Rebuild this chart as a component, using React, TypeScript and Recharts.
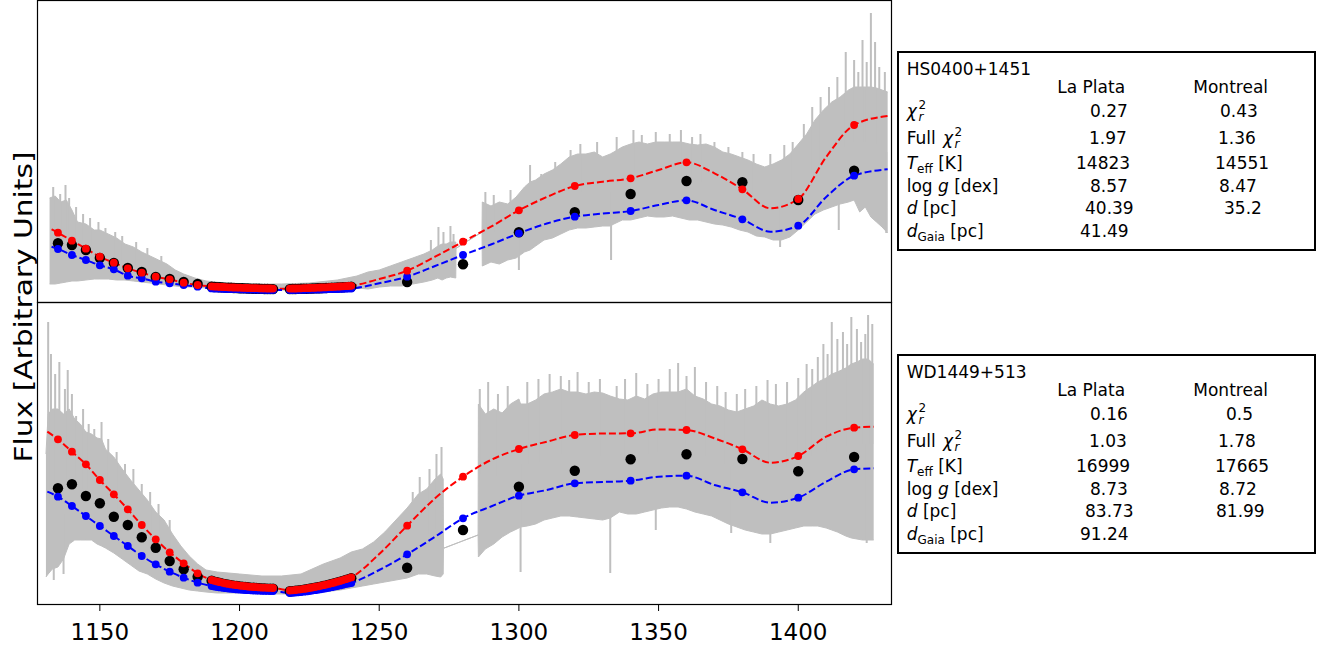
import React from 'react';
import { ComposedChart, Area, Line, XAxis, YAxis } from 'recharts';

// ---------- axis ----------
const X_DOMAIN: [number, number] = [1127.5, 1433.2];
const X_TICKS = [1150, 1200, 1250, 1300, 1350, 1400];

// ---------- wavelength grids of the binned points ----------
const COARSE_WL = [1135, 1140, 1145, 1150, 1155, 1160, 1165, 1170, 1175, 1180, 1185];
const DENSE_LEFT_WL = [1190, 1191, 1192, 1193, 1194, 1195, 1196, 1197, 1198, 1199, 1200, 1201, 1202, 1203, 1204, 1205, 1206, 1207, 1208, 1209, 1210, 1211, 1212];
const DENSE_RIGHT_WL = [1218, 1219, 1220, 1221, 1222, 1223, 1224, 1225, 1226, 1227, 1228, 1229, 1230, 1231, 1232, 1233, 1234, 1235, 1236, 1237, 1238, 1239, 1240];
const FAR_WL = [1260, 1280, 1300, 1320, 1340, 1360, 1380, 1400, 1420];

// ---------- top panel (HS0400+1451) ----------
const TOP_OBS_COARSE = [58.7, 57, 52, 44, 39, 34, 30, 25, 23, 20, 18];
const TOP_OBS_DENSE_L = [15.2, 15.0, 14.9, 14.7, 14.6, 14.4, 14.3, 14.2, 14.0, 13.9, 13.8, 13.7, 13.6, 13.5, 13.4, 13.3, 13.2, 13.2, 13.1, 13.0, 13.0, 12.9, 12.9];
const TOP_OBS_DENSE_R = [12.9, 13.0, 13.0, 13.1, 13.2, 13.2, 13.3, 13.4, 13.5, 13.6, 13.7, 13.8, 13.9, 14.0, 14.1, 14.2, 14.4, 14.5, 14.6, 14.8, 14.9, 15.1, 15.3];
const TOP_OBS_FAR = [20, 37.7, 69.7, 89.7, 108, 121, 119.7, 102, 131.3];

const TOP_LP_COARSE = [69.3, 61.3, 53.3, 45.3, 39.3, 33.7, 29.3, 25.3, 22.7, 19.3, 17];
const TOP_LP_DENSE_L = [15.6, 15.4, 15.3, 15.1, 15.0, 14.8, 14.7, 14.6, 14.5, 14.4, 14.3, 14.2, 14.1, 14.0, 13.9, 13.8, 13.8, 13.7, 13.6, 13.6, 13.5, 13.5, 13.4];
const TOP_LP_DENSE_R = [13.4, 13.5, 13.5, 13.6, 13.7, 13.8, 13.9, 14.0, 14.1, 14.2, 14.3, 14.5, 14.6, 14.7, 14.9, 15.0, 15.2, 15.3, 15.5, 15.7, 15.8, 16.0, 16.2];
const TOP_LP_FAR = [31.3, 60.3, 91.7, 116, 123.7, 139.7, 112.7, 103, 177];

const TOP_MT_COARSE = [53, 47, 42, 36.7, 32.7, 26.3, 23.7, 20.3, 18.7, 17, 15.3];
const TOP_MT_DENSE_L = [13.6, 13.5, 13.4, 13.3, 13.2, 13.1, 13.0, 12.9, 12.9, 12.8, 12.7, 12.6, 12.6, 12.5, 12.4, 12.4, 12.3, 12.3, 12.2, 12.2, 12.1, 12.1, 12.1];
const TOP_MT_DENSE_R = [12.0, 12.0, 12.1, 12.1, 12.2, 12.2, 12.3, 12.3, 12.4, 12.4, 12.5, 12.6, 12.6, 12.7, 12.8, 12.9, 12.9, 13.0, 13.1, 13.2, 13.3, 13.4, 13.5];
const TOP_MT_FAR = [25.3, 47, 68.7, 85.3, 91, 101.7, 82.7, 76.3, 126.3];

const TOP_CURVE_WL = [1132.7, 1135, 1140, 1145, 1150, 1155, 1160, 1165, 1170, 1175, 1180, 1185, 1190, 1195, 1200, 1205, 1210, 1212, 1215, 1218, 1220, 1225, 1230, 1235, 1240, 1250, 1260, 1270, 1280, 1290, 1300, 1310, 1320, 1330, 1340, 1350, 1360, 1370, 1380, 1390, 1400, 1410, 1420, 1432];
const TOP_LP_CURVE = [72.7, 69.3, 61.3, 53.3, 45.3, 39.3, 33.7, 29.3, 25.3, 22.7, 19.3, 17, 15.6, 15.0, 14.3, 13.8, 13.5, 13.4, 13.3, 13.4, 13.5, 14.0, 14.6, 15.3, 16.2, 23, 31.3, 45.3, 60.3, 75.3, 91.7, 105, 116, 120.3, 123.7, 132, 139.7, 128.7, 112.7, 93.7, 103, 145, 177, 186];
const TOP_MT_CURVE = [55.3, 53, 47, 42, 36.7, 32.7, 26.3, 23.7, 20.3, 18.7, 17, 15.3, 13.6, 13.1, 12.7, 12.4, 12.1, 12.1, 12.0, 12.0, 12.1, 12.3, 12.6, 13.0, 13.5, 18.7, 25.3, 36, 47, 57.5, 68.7, 78.5, 85.3, 88.5, 91, 97, 101.7, 92, 82.7, 70.3, 76.3, 105, 126.3, 132.7];

// observed spectrum: envelope of the noisy gray trace
const TOP_SPEC_WL = [1132, 1134, 1136, 1138, 1140, 1142, 1145, 1148, 1150, 1153, 1156, 1159, 1162, 1165, 1168, 1171, 1174, 1177, 1180, 1184, 1188, 1195, 1205, 1215, 1225, 1235, 1242, 1246, 1250, 1254, 1258, 1262, 1266, 1269, 1271, 1272.5, 1274, 1275.5, 1277.4, 1277.5, 1286.8, 1286.9, 1290, 1293, 1296, 1299, 1302, 1304, 1306, 1309, 1312, 1315, 1318, 1321, 1324, 1327, 1330, 1332.7, 1334, 1337, 1340, 1343, 1346, 1349, 1352, 1355, 1358, 1361, 1364, 1367, 1370, 1373, 1376, 1379, 1382, 1385, 1388, 1391, 1394, 1397, 1400, 1403, 1406, 1409, 1412, 1415, 1418, 1420, 1422, 1424, 1426, 1428, 1430, 1432];
const TOP_SPEC_LO = [18, 18, 19, 20, 21, 21, 22, 23, 23, 23, 22, 22, 21, 20, 19, 18, 17, 16, 15, 15, 14, 13, 12, 12, 12, 13, 14, 13, 15, 16, 16, 18, 20, 22, 24, 22, 24, 25, 24, 53.7, 70, 36, 40, 38, 42, 44, 50, 52, 56, 62, 64, 68, 72, 74, 74, 75, 76, 76, 78, 82, 82, 84, 86, 85, 85, 86, 84, 82, 82, 80, 78, 77, 75, 72, 70, 66, 65, 62, 62, 65, 72, 80, 88, 92, 95, 98, 100, 102, 90, 95, 85, 80, 75, 69];
const TOP_SPEC_HI = [104, 106, 100, 102, 92, 80, 78, 72, 72, 68, 64, 58, 55, 50, 46, 42, 38, 32, 28, 24, 21, 19, 18, 18, 19, 22, 26, 30, 32, 36, 40, 44, 48, 52, 56, 58, 58, 60, 60, 53.7, 70, 100, 96, 100, 98, 105, 115, 120, 122, 128, 132, 138, 145, 148, 148, 150, 145, 148, 150, 155, 158, 160, 158, 160, 160, 160, 160, 158, 157, 158, 155, 150, 148, 145, 142, 138, 135, 138, 142, 148, 158, 168, 182, 192, 200, 205, 212, 215, 215, 215, 215, 214, 212, 210];
// individual noise spikes of the gray trace
const TOP_SPIKE_WL = [1133.3, 1135.8, 1137.7, 1139, 1141.5, 1144, 1146.5, 1149.5, 1152, 1155.5, 1158, 1163, 1167, 1172, 1268.5, 1271.2, 1273, 1275.5, 1276.6, 1288, 1291, 1297, 1300, 1304, 1308, 1313, 1318.5, 1322, 1328, 1333, 1335, 1341, 1344, 1349, 1354, 1358, 1362, 1365, 1370, 1375, 1380, 1384, 1390, 1393.5, 1395, 1398, 1402, 1405, 1408, 1411, 1414, 1414.5, 1417, 1420, 1421.5, 1423, 1424.5, 1426, 1427.5, 1429, 1431, 1431.5];
const TOP_SPIKE_FROM = [60, 60, 60, 55, 50, 50, 48, 46, 45, 43, 40, 37, 33, 30, 35, 40, 40, 42, 42, 70, 70, 70, 75, 85, 90, 95, 110, 110, 110, 110, 115, 120, 122, 122, 122, 122, 120, 120, 115, 112, 108, 104, 100, 100, 102, 105, 115, 130, 140, 145, 150, 150, 155, 160, 160, 160, 160, 160, 158, 155, 150, 150];
const TOP_SPIKE_TO = [115, 108, 117, 104, 95, 88, 84, 80, 74, 70, 66, 60, 54, 46, 62, 75, 70, 76, 68, 110, 107, 112, 32, 137, 128, 140, 152, 158, 160, 42, 165, 172, 167, 170, 168, 172, 165, 168, 160, 155, 150, 148, 148, 55, 157, 160, 178, 195, 205, 215, 225, 72, 250, 242, 230, 262, 240, 289, 260, 235, 230, 69];

// ---------- bottom panel (WD1449+513) ----------
const BOT_OBS_COARSE = [115.7, 119.7, 108, 100.7, 87.3, 79, 66.7, 56.3, 43, 34.7, 27.3];
const BOT_OBS_DENSE_L = [23.2, 22.4, 21.7, 21.0, 20.4, 19.8, 19.3, 18.8, 18.4, 18.0, 17.6, 17.3, 17.0, 16.7, 16.4, 16.2, 16.0, 15.8, 15.6, 15.5, 15.4, 15.3, 15.2];
const BOT_OBS_DENSE_R = [12.7, 12.9, 13.2, 13.5, 13.9, 14.3, 14.7, 15.2, 15.7, 16.2, 16.8, 17.4, 18.0, 18.6, 19.3, 20.0, 20.7, 21.5, 22.3, 23.1, 24.0, 24.9, 25.8];
const BOT_OBS_FAR = [36.3, 74, 117.3, 133.3, 144.7, 149.7, 145, 132.7, 147];

const BOT_LP_COARSE = [164.7, 152.3, 139.7, 124, 109.7, 94.7, 79, 64.7, 51.7, 40.7, 30.7];
const BOT_LP_DENSE_L = [24.0, 23.2, 22.5, 21.8, 21.2, 20.6, 20.1, 19.6, 19.2, 18.8, 18.4, 18.1, 17.8, 17.5, 17.2, 17.0, 16.8, 16.6, 16.4, 16.3, 16.2, 16.1, 16.0];
const BOT_LP_DENSE_R = [13.5, 13.7, 14.0, 14.3, 14.7, 15.1, 15.5, 16.0, 16.5, 17.0, 17.6, 18.2, 18.8, 19.4, 20.1, 20.8, 21.5, 22.3, 23.1, 23.9, 24.8, 25.7, 26.6];
const BOT_LP_FAR = [78.3, 127.3, 155, 169, 170.7, 174, 154.7, 148, 176.3];

const BOT_MT_COARSE = [107.3, 98, 88, 78, 68, 58, 48, 39.7, 32.3, 26.3, 21.3];
const BOT_MT_DENSE_L = [18.0, 17.5, 17.0, 16.6, 16.2, 15.8, 15.5, 15.2, 14.9, 14.6, 14.4, 14.2, 14.0, 13.8, 13.7, 13.5, 13.4, 13.3, 13.2, 13.1, 13.1, 13.0, 13.0];
const BOT_MT_DENSE_R = [11.0, 11.2, 11.4, 11.7, 12.0, 12.3, 12.6, 13.0, 13.4, 13.8, 14.2, 14.7, 15.2, 15.7, 16.2, 16.8, 17.4, 18.0, 18.6, 19.2, 19.9, 20.5, 21.0];
const BOT_MT_FAR = [49.7, 85.7, 108.3, 120.7, 123.3, 128.3, 111.7, 106.3, 134.7];

const BOT_CURVE_WL = [1131.2, 1135, 1140, 1145, 1150, 1155, 1160, 1165, 1170, 1175, 1180, 1185, 1190, 1195, 1200, 1205, 1210, 1212, 1215, 1218, 1220, 1225, 1230, 1235, 1240, 1250, 1260, 1270, 1280, 1290, 1300, 1310, 1320, 1330, 1340, 1350, 1360, 1370, 1380, 1390, 1400, 1410, 1420, 1427];
const BOT_LP_CURVE = [172.3, 164.7, 152.3, 139.7, 124, 109.7, 94.7, 79, 64.7, 51.7, 40.7, 30.7, 24, 20.6, 18.4, 17, 16.2, 16, 14.8, 13.5, 14, 15.5, 18.2, 21.5, 26.6, 50, 78.3, 105.7, 127.3, 144, 155, 162.3, 169, 170.5, 170.7, 174.5, 174, 165.7, 154.7, 141.3, 148, 167.3, 176.3, 177.3];
const BOT_MT_CURVE = [112.3, 107.3, 98, 88, 78, 68, 58, 48, 39.7, 32.3, 26.3, 21.3, 18, 15.8, 14.4, 13.5, 13.1, 13, 12, 11, 11.4, 12.6, 14.7, 17.4, 21, 34, 49.7, 67.3, 85.7, 97.5, 108.3, 114, 120.7, 122, 123.3, 127.3, 128.3, 119, 111.7, 101.3, 106.3, 122.3, 134.7, 135.7];

const BOT_SPEC_WL = [1130.7, 1131.5, 1133, 1135, 1137, 1139, 1141, 1143, 1145, 1147, 1149, 1150.6, 1152, 1155, 1158, 1161, 1164, 1167, 1170, 1173, 1176, 1179, 1182, 1185, 1188, 1192, 1200, 1208, 1215, 1222, 1230, 1236, 1240, 1244, 1248, 1252, 1256, 1260, 1264, 1267, 1270, 1272, 1272.9, 1273, 1285.4, 1285.5, 1288, 1291, 1294, 1297, 1300, 1300.6, 1303, 1306, 1309, 1312, 1315, 1318, 1321, 1324, 1327, 1330, 1332.7, 1336, 1339, 1342, 1345, 1348, 1351, 1354, 1357, 1360, 1363, 1366, 1369, 1372, 1375, 1378, 1381, 1384, 1387, 1390, 1393, 1396, 1399, 1402, 1405, 1407, 1410, 1412, 1414, 1417, 1419, 1421, 1423, 1425, 1427];
const BOT_SPEC_LO = [27, 30, 35, 37, 45, 60, 64, 64, 64, 64, 60, 58, 56, 51, 45, 39, 33, 30, 25, 21, 18, 16, 14, 13, 12, 11, 11, 10, 10, 10, 12, 14, 16, 18, 20, 22, 24, 26, 30, 30, 28, 27, 30, 55.7, 69, 47, 55, 60, 67, 72, 76, 77, 78, 80, 84, 86, 88, 88, 87, 86, 85, 84, 86, 92, 90, 90, 92, 94, 96, 97, 97, 95, 92, 90, 88, 84, 80, 77, 74, 72, 70, 70, 72, 74, 76, 78, 78, 78, 76, 74, 72, 68, 66, 65, 64, 64, 64];
const BOT_SPEC_HI = [150, 190, 195, 195, 190, 195, 185, 180, 172, 170, 166, 165, 155, 147, 135, 124, 114, 104, 92, 84, 70, 58, 48, 40, 34, 32, 30, 28, 28, 30, 40, 46, 52, 55, 62, 72, 84, 96, 110, 115, 125, 130, 125, 55.7, 69, 200, 190, 195, 191, 200, 205, 200, 200, 204, 210, 212, 215, 212, 212, 210, 212, 211, 208, 205, 204, 208, 205, 210, 212, 212, 212, 215, 208, 205, 200, 198, 194, 192, 195, 198, 204, 200, 198, 200, 204, 212, 218, 222, 226, 230, 232, 236, 240, 242, 245, 245, 240];
const BOT_SPIKE_WL = [1131.5, 1132.5, 1133.5, 1134, 1135.5, 1137, 1137.5, 1138.5, 1140, 1141.5, 1144, 1146, 1148, 1150.6, 1153, 1156, 1159, 1162, 1165, 1168, 1171, 1175, 1262, 1264.5, 1268, 1270.5, 1272.3, 1286, 1289, 1292.5, 1296, 1300.6, 1303, 1307, 1311, 1315, 1318, 1321, 1325, 1329, 1332.7, 1335, 1338, 1342, 1346, 1349, 1350, 1354, 1357, 1360, 1363, 1367, 1371, 1374, 1376, 1378, 1381, 1385, 1389, 1390, 1392, 1396, 1400, 1403, 1405, 1407, 1409, 1410.5, 1412, 1414, 1416, 1417.5, 1419, 1421, 1422.5, 1424, 1424.5, 1425, 1426.5];
const BOT_SPIKE_FROM = [100, 100, 80, 110, 110, 90, 120, 120, 120, 120, 115, 115, 110, 105, 100, 95, 85, 78, 70, 62, 55, 45, 60, 65, 70, 75, 75, 130, 125, 128, 135, 140, 140, 142, 148, 150, 150, 150, 148, 148, 148, 150, 148, 148, 150, 150, 152, 155, 155, 155, 152, 148, 142, 140, 138, 135, 135, 135, 137, 135, 136, 137, 140, 145, 148, 150, 152, 152, 152, 155, 158, 158, 158, 160, 160, 160, 160, 160, 160];
const BOT_SPIKE_TO = [282, 250, 24, 230, 242, 30, 215, 234, 210, 188, 195, 180, 175, 182, 165, 152, 140, 135, 120, 112, 100, 84, 112, 127, 135, 150, 157, 215, 222, 210, 218, 32, 222, 225, 230, 228, 224, 232, 222, 225, 31, 218, 225, 231, 220, 74, 225, 235, 241, 228, 237, 222, 218, 212, 71, 210, 215, 218, 224, 61, 220, 222, 226, 240, 235, 247, 260, 250, 282, 265, 272, 260, 287, 275, 262, 270, 61, 289, 280];

// ---------- fit parameter tables ----------
const TOP_NAME = 'HS0400+1451';
const BOT_NAME = 'WD1449+513';
const MODEL_NAMES = ['La Plata', 'Montreal'];
const TOP_LAPLATA = ['0.27', '1.97', '14823', '8.57', '40.39', '41.49'];
const TOP_MONTREAL = ['0.43', '1.36', '14551', '8.47', '35.2'];
const BOT_LAPLATA = ['0.16', '1.03', '16999', '8.73', '83.73', '91.24'];
const BOT_MONTREAL = ['0.5', '1.78', '17665', '8.72', '81.99'];
const Y_LABEL = 'Flux [Arbitrary Units]';

// ---------- helpers ----------
const pts = (wl: number[], v: number[]) => wl.map((w, i) => ({ wl: w, v: v[i] }));
const spec = (wl: number[], lo: number[], hi: number[]) => wl.map((w, i) => ({ wl: w, spec: [lo[i], hi[i]] }));
const spikes = (wl: number[], from: number[], to: number[]) =>
  wl.flatMap((w, i) => [{ wl: w, v: from[i] }, { wl: w, v: to[i] }, { wl: w, v: null as number | null }]);
const dotsOf = (c: number[], l: number[], r: number[], f: number[]) => [
  ...pts(COARSE_WL, c), ...pts(DENSE_LEFT_WL, l), ...pts(DENSE_RIGHT_WL, r), ...pts(FAR_WL, f),
];

const topSpec = spec(TOP_SPEC_WL, TOP_SPEC_LO, TOP_SPEC_HI);
const botSpec = spec(BOT_SPEC_WL, BOT_SPEC_LO, BOT_SPEC_HI);
const topSpikes = spikes(TOP_SPIKE_WL, TOP_SPIKE_FROM, TOP_SPIKE_TO);
const botSpikes = spikes(BOT_SPIKE_WL, BOT_SPIKE_FROM, BOT_SPIKE_TO);
const topObs = dotsOf(TOP_OBS_COARSE, TOP_OBS_DENSE_L, TOP_OBS_DENSE_R, TOP_OBS_FAR);
const topLP = dotsOf(TOP_LP_COARSE, TOP_LP_DENSE_L, TOP_LP_DENSE_R, TOP_LP_FAR);
const topMT = dotsOf(TOP_MT_COARSE, TOP_MT_DENSE_L, TOP_MT_DENSE_R, TOP_MT_FAR);
const botObs = dotsOf(BOT_OBS_COARSE, BOT_OBS_DENSE_L, BOT_OBS_DENSE_R, BOT_OBS_FAR);
const botLP = dotsOf(BOT_LP_COARSE, BOT_LP_DENSE_L, BOT_LP_DENSE_R, BOT_LP_FAR);
const botMT = dotsOf(BOT_MT_COARSE, BOT_MT_DENSE_L, BOT_MT_DENSE_R, BOT_MT_FAR);
const topLPCurve = pts(TOP_CURVE_WL, TOP_LP_CURVE);
const topMTCurve = pts(TOP_CURVE_WL, TOP_MT_CURVE);
const botLPCurve = pts(BOT_CURVE_WL, BOT_LP_CURVE);
const botMTCurve = pts(BOT_CURVE_WL, BOT_MT_CURVE);

const FONT = 'DejaVu Sans';
const GRAY = '#bfbfbf';
const RED = '#ff0000';
const BLUE = '#0000ff';

function panelSeries(
  spk: any[], obs: any[], lp: any[], mt: any[], lpCurve: any[], mtCurve: any[],
) {
  return [
    <Area key="spec" dataKey="spec" type="linear" fill={GRAY} fillOpacity={1} stroke={GRAY} strokeWidth={1}
      isAnimationActive={false} dot={false} activeDot={false} />,
    <Line key="spk" data={spk} dataKey="v" type="linear" stroke={GRAY} strokeWidth={2}
      dot={false} activeDot={false} isAnimationActive={false} />,
    <Line key="obs" data={obs} dataKey="v" stroke="none" isAnimationActive={false} activeDot={false}
      dot={{ r: 5.2, fill: '#000000', stroke: 'none' }} />,
    <Line key="mtd" data={mt} dataKey="v" stroke="none" isAnimationActive={false} activeDot={false}
      dot={{ r: 3.9, fill: BLUE, stroke: 'none' }} />,
    <Line key="lpd" data={lp} dataKey="v" stroke="none" isAnimationActive={false} activeDot={false}
      dot={{ r: 3.9, fill: RED, stroke: 'none' }} />,
    <Line key="lpc" data={lpCurve} dataKey="v" type="monotone" stroke={RED} strokeWidth={2}
      strokeDasharray="7 3" dot={false} activeDot={false} isAnimationActive={false} />,
    <Line key="mtc" data={mtCurve} dataKey="v" type="monotone" stroke={BLUE} strokeWidth={2}
      strokeDasharray="7 3" dot={false} activeDot={false} isAnimationActive={false} />,
  ];
}

function StatsBox({ top, name, lp, mt, mtX }: { top: number; name: string; lp: string[]; mt: string[]; mtX: number[] }) {
  const lpX = [1090, 1089, 1076, 1090, 1085, 1080];
  const rows = [65.7, 93.3, 118.3, 140.7, 163.3, 185.7].map((d) => top + d);
  const fs = 17;
  const sm = 12;
  const lx = 906.7;
  return (
    <g fontFamily={FONT} fontSize={fs} fill="#000">
      <rect x={898} y={top + 1} width={417} height={198} fill="#fff" stroke="#000" strokeWidth={2} />
      <text x={lx} y={top + 24}>{name}</text>
      <text x={1057.3} y={top + 42.3}>{MODEL_NAMES[0]}</text>
      <text x={1193.3} y={top + 42.3}>{MODEL_NAMES[1]}</text>
      {/* chi2_r */}
      <text x={lx} y={rows[0]} fontStyle="italic">χ</text>
      <text x={918.5} y={rows[0] - 8} fontSize={sm}>2</text>
      <text x={918.5} y={rows[0] + 4} fontSize={sm} fontStyle="italic">r</text>
      {/* Full chi2_r */}
      <text x={lx} y={rows[1]}>Full</text>
      <text x={943} y={rows[1]} fontStyle="italic">χ</text>
      <text x={954.5} y={rows[1] - 8} fontSize={sm}>2</text>
      <text x={954.5} y={rows[1] + 4} fontSize={sm} fontStyle="italic">r</text>
      {/* Teff */}
      <text x={lx} y={rows[2]}>
        <tspan fontStyle="italic">T</tspan>
        <tspan fontSize={sm} dy={4}>eff</tspan>
        <tspan dy={-4}> [K]</tspan>
      </text>
      {/* log g */}
      <text x={lx} y={rows[3]}>log <tspan fontStyle="italic">g</tspan> [dex]</text>
      {/* d */}
      <text x={lx} y={rows[4]}><tspan fontStyle="italic">d</tspan> [pc]</text>
      {/* d Gaia */}
      <text x={lx} y={rows[5]}>
        <tspan fontStyle="italic">d</tspan>
        <tspan fontSize={sm} dy={4}>Gaia</tspan>
        <tspan dy={-4}> [pc]</tspan>
      </text>
      {lp.map((s, i) => (
        <text key={'lp' + i} x={lpX[i]} y={rows[i]}>{s}</text>
      ))}
      {mt.map((s, i) => (
        <text key={'mt' + i} x={mtX[i]} y={rows[i]}>{s}</text>
      ))}
    </g>
  );
}

export default function App() {
  return (
    <div style={{ position: 'absolute', left: 0, top: 0, width: 1330, height: 648, background: '#fff', fontFamily: FONT }}>
      <div style={{ position: 'absolute', left: 0, top: 0 }}>
        <ComposedChart width={892} height={302} data={topSpec} margin={{ top: 1, right: 1, bottom: 0, left: 37 }}>
          <XAxis dataKey="wl" type="number" domain={X_DOMAIN} allowDataOverflow hide />
          <YAxis type="number" domain={[0, 301]} allowDataOverflow hide />
          {panelSeries(topSpikes, topObs, topLP, topMT, topLPCurve, topMTCurve)}
        </ComposedChart>
      </div>
      <div style={{ position: 'absolute', left: 0, top: 302 }}>
        <ComposedChart width={892} height={346} data={botSpec} margin={{ top: 0, right: 1, bottom: 4, left: 37 }}>
          <XAxis dataKey="wl" type="number" domain={X_DOMAIN} allowDataOverflow ticks={X_TICKS}
            axisLine={false} tickSize={7} tickMargin={13} height={40}
            tickLine={{ stroke: '#000', strokeWidth: 1 }}
            tick={{ fontSize: 23, fill: '#000', fontFamily: FONT }} />
          <YAxis type="number" domain={[0, 302]} allowDataOverflow hide />
          {panelSeries(botSpikes, botObs, botLP, botMT, botLPCurve, botMTCurve)}
        </ComposedChart>
      </div>
      <svg width={1330} height={648} style={{ position: 'absolute', left: 0, top: 0, pointerEvents: 'none' }}>
        <rect x={37.5} y={0.5} width={854} height={302} fill="none" stroke="#000" strokeWidth={1.2} />
        <rect x={37.5} y={302.5} width={854} height={302} fill="none" stroke="#000" strokeWidth={1.2} />
        <text transform="translate(32, 307) rotate(-90)" textAnchor="middle" fontFamily={FONT} fontSize={25}
          textLength={311} lengthAdjust="spacingAndGlyphs" fill="#000">{Y_LABEL}</text>
        <StatsBox top={51} name={TOP_NAME} lp={TOP_LAPLATA} mt={TOP_MONTREAL} mtX={[1220, 1218, 1215, 1219, 1224]} />
        <StatsBox top={354} name={BOT_NAME} lp={BOT_LAPLATA} mt={BOT_MONTREAL} mtX={[1226, 1218, 1215, 1219, 1216]} />
      </svg>
    </div>
  );
}
